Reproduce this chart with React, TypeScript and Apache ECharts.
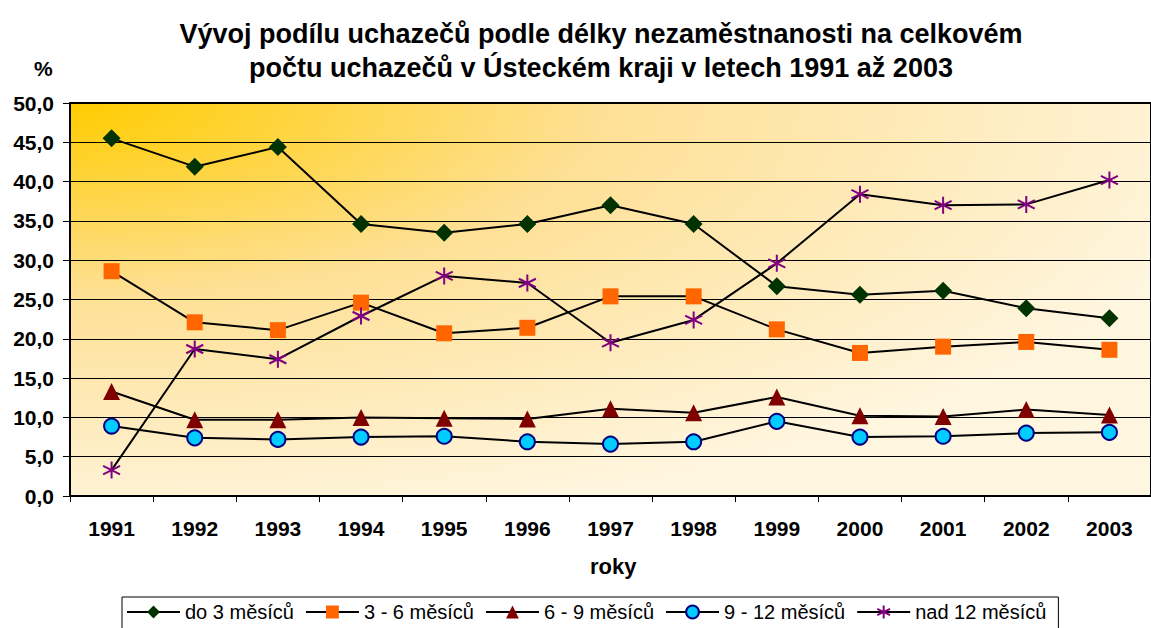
import React, { useEffect, useRef } from "react";
import * as echarts from "echarts";

const years = ["1991","1992","1993","1994","1995","1996","1997","1998","1999","2000","2001","2002","2003"];
const do3 = [45.5, 41.9, 44.4, 34.6, 33.5, 34.6, 37.0, 34.6, 26.7, 25.6, 26.1, 23.9, 22.6];
const m3to6 = [28.6, 22.1, 21.1, 24.6, 20.7, 21.4, 25.4, 25.4, 21.2, 18.2, 19.0, 19.6, 18.6];
const m6to9 = [13.3, 9.7, 9.7, 10.0, 9.9, 9.8, 11.1, 10.6, 12.6, 10.2, 10.1, 11.0, 10.3];
const m9to12 = [8.9, 7.4, 7.2, 7.5, 7.6, 6.9, 6.6, 6.9, 9.5, 7.5, 7.6, 8.0, 8.1];
const nad12 = [3.3, 18.7, 17.4, 22.9, 28.0, 27.1, 19.5, 22.4, 29.6, 38.4, 37.0, 37.1, 40.2];
const seriesNames = ["do 3 měsíců", "3 - 6 měsíců", "6 - 9 měsíců", "9 - 12 měsíců", "nad 12 měsíců"];

const FONT = "'Liberation Sans', Arial, sans-serif";

export default function App() {
  const ref = useRef<HTMLDivElement>(null);
  useEffect(() => {
    const chart = echarts.init(ref.current!, null, { renderer: "svg" });
    const lineStyle = { color: "#000", width: 2 };
    const asterisk = "path://M5,0 L5,10 M0.67,2.5 L9.33,7.5 M0.67,7.5 L9.33,2.5";
    chart.setOption({
      animation: false,
      textStyle: { fontFamily: FONT },
      title: {
        text: "Vývoj podílu uchazečů podle délky nezaměstnanosti na celkovém\npočtu uchazečů v Ústeckém kraji v letech 1991 až 2003",
        left: 596,
        textAlign: "center",
        top: 12,
        textStyle: { fontFamily: FONT, fontSize: 27, fontWeight: "bold", color: "#000", lineHeight: 34 },
      },
      graphic: [
        { type: "text", left: 34, top: 58, style: { text: "%", fontFamily: FONT, fontSize: 21, fontWeight: "bold", fill: "#000" } },
        { type: "text", left: 590, top: 555, style: { text: "roky", fontFamily: FONT, fontSize: 22, fontWeight: "bold", fill: "#000" } },
      ],
      legend: {
        left: 122,
        top: 597,
        borderColor: "#000",
        borderWidth: 1,
        padding: [5, 12, 12, 4],
        itemGap: 11,
        itemWidth: 53,
        itemHeight: 16,
        textStyle: { fontFamily: FONT, fontSize: 20, color: "#000" },
        data: seriesNames,
      },
      grid: {
        left: 70,
        top: 103,
        width: 1090,
        height: 393,
        show: true,
        borderColor: "#000",
        borderWidth: 2,
        backgroundColor: {
          type: "radial",
          x: 0,
          y: 0,
          r: 1.1,
          colorStops: [
            { offset: 0, color: "#FFCC00" },
            { offset: 0.45, color: "#FEE096" },
            { offset: 1, color: "#FFF6E0" },
          ],
        },
      },
      xAxis: {
        type: "category",
        data: years,
        boundaryGap: true,
        axisLine: { lineStyle: { color: "#000", width: 2 } },
        axisTick: { show: true, length: 6, lineStyle: { color: "#000", width: 1 } },
        axisLabel: { fontFamily: FONT, fontSize: 21, fontWeight: "bold", color: "#000", margin: 22 },
        splitLine: { show: false },
      },
      yAxis: {
        type: "value",
        min: 0,
        max: 50,
        interval: 5,
        axisLine: { show: true, lineStyle: { color: "#000", width: 2 } },
        axisTick: { show: true, length: 7, lineStyle: { color: "#000", width: 1 } },
        axisLabel: {
          fontFamily: FONT, fontSize: 21, fontWeight: "bold", color: "#000", margin: 16,
          formatter: (v: number) => v.toFixed(1).replace(".", ","),
        },
        splitLine: { show: true, lineStyle: { color: "#000", width: 1 } },
      },
      series: [
        { name: seriesNames[0], type: "line", data: do3, symbol: "diamond", symbolSize: 18, lineStyle, itemStyle: { color: "#003300" } },
        { name: seriesNames[1], type: "line", data: m3to6, symbol: "rect", symbolSize: 16, lineStyle, itemStyle: { color: "#FF6600" } },
        { name: seriesNames[2], type: "line", data: m6to9, symbol: "triangle", symbolSize: 17, lineStyle, itemStyle: { color: "#800000" } },
        { name: seriesNames[3], type: "line", data: m9to12, symbol: "circle", symbolSize: 15, lineStyle, itemStyle: { color: "#00CCFF", borderColor: "#000080", borderWidth: 2 } },
        { name: seriesNames[4], type: "line", data: nad12, symbol: asterisk, symbolSize: 17, lineStyle, itemStyle: { color: "none", borderColor: "#800080", borderWidth: 2 } },
      ],
    });
    return () => chart.dispose();
  }, []);
  return <div ref={ref} style={{ position: "fixed", left: 0, top: 0, width: 1151, height: 628, background: "#fff" }} />;
}
